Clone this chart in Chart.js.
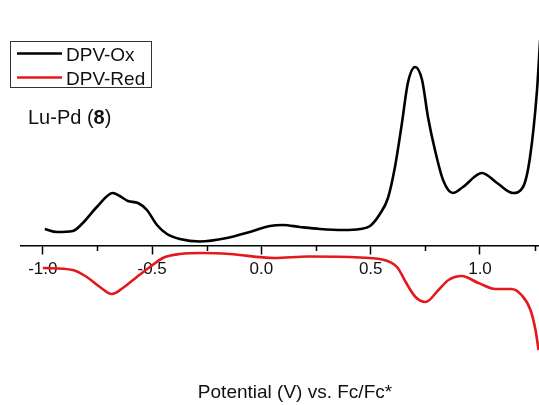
<!DOCTYPE html>
<html>
<head>
<meta charset="utf-8">
<script src="https://cdn.jsdelivr.net/npm/chart.js@4/dist/chart.umd.min.js"></script>
<style>
  html, body { margin: 0; padding: 0; background: #fff; }
  #wrap { width: 539px; height: 405px; position: relative; }
  canvas { display: block; }
</style>
</head>
<body>
<div id="wrap"><canvas id="dpv" width="539" height="405"></canvas></div>
<script>
// Differential pulse voltammetry of Lu-Pd (8): potential (V vs. Fc/Fc*) and current (arb. units)
const oxPotential = [-0.991, -0.936, -0.863, -0.817, -0.753, -0.680, -0.648, -0.611, -0.565, -0.524,
  -0.478, -0.432, -0.373, -0.282, -0.158, -0.053, 0.039, 0.098, 0.176, 0.268,
  0.373, 0.451, 0.497, 0.542, 0.579, 0.611, 0.643, 0.670, 0.703, 0.735,
  0.762, 0.794, 0.831, 0.876, 0.922, 1.009, 1.078, 1.151, 1.197,
  1.229, 1.261, 1.275];
const oxCurrent = [1.7, 1.4, 1.5, 2.3, 3.9, 5.3, 5.0, 4.5, 4.3, 3.6,
  2.1, 1.2, 0.7, 0.45, 0.8, 1.4, 2.0, 2.1, 1.9, 1.7,
  1.6, 1.7, 2.0, 3.2, 4.8, 7.9, 12.3, 16.3, 17.9, 16.6,
  12.9, 9.6, 6.6, 5.3, 5.9, 7.3, 6.3, 5.3, 5.9,
  8.9, 15.6, 20.6];

const redPotential = [-1.000, -0.863, -0.799, -0.739, -0.684, -0.634, -0.570, -0.510, -0.451, -0.373,
  -0.268, -0.144, 0.057, 0.216, 0.451, 0.577, 0.624, 0.660, 0.705, 0.751,
  0.810, 0.856, 0.916, 0.993, 1.071, 1.144, 1.190, 1.231, 1.254, 1.268];
const redCurrent = [-2.2, -2.4, -3.1, -4.1, -4.8, -4.2, -3.1, -2.1, -1.2, -0.8,
  -0.7, -0.8, -1.2, -1.05, -1.15, -1.5, -2.2, -3.6, -5.1, -5.6,
  -4.4, -3.4, -3.0, -3.7, -4.3, -4.3, -4.9, -6.4, -8.4, -10.4];

const majorTicks = [-1.0, -0.5, 0.0, 0.5, 1.0];
const minorTicks = [-0.75, -0.25, 0.25, 0.75, 1.25];
const seriesNames = ['DPV-Ox', 'DPV-Red'];
const seriesColors = ['#000000', '#e3191c'];
const axisTitle = 'Potential (V) vs. Fc/Fc*';

const FONT = '"Liberation Sans", Arial, Helvetica, sans-serif';

function pairs(xs, ys) { return xs.map((x, i) => ({ x: x, y: ys[i] })); }

// Minor tick marks along the x axis (drawn under the curves)
const minorTickPlugin = {
  id: 'minorTicks',
  beforeDatasetsDraw(chart) {
    const xs = chart.scales.x, ys = chart.scales.y;
    const y0 = ys.getPixelForValue(0);
    const ctx = chart.ctx;
    ctx.save();
    ctx.strokeStyle = '#000';
    ctx.lineWidth = 1.5;
    ctx.beginPath();
    minorTicks.forEach(v => {
      const px = Math.round(xs.getPixelForValue(v)) + 0.5;
      ctx.moveTo(px, y0);
      ctx.lineTo(px, y0 + 5);
    });
    ctx.stroke();
    ctx.restore();
  }
};

// Boxed legend, compound label and axis title
const labelsPlugin = {
  id: 'labels',
  afterDraw(chart) {
    const ctx = chart.ctx;
    ctx.save();
    // legend frame
    ctx.strokeStyle = '#333';
    ctx.lineWidth = 1;
    ctx.strokeRect(10.5, 41.5, 141, 46);
    const rows = [53.5, 77.5];
    ctx.font = '19px ' + FONT;
    ctx.textBaseline = 'alphabetic';
    ctx.textAlign = 'left';
    seriesNames.forEach((name, i) => {
      ctx.strokeStyle = seriesColors[i];
      ctx.lineWidth = 2.6;
      ctx.beginPath();
      ctx.moveTo(17, rows[i]);
      ctx.lineTo(62, rows[i]);
      ctx.stroke();
      ctx.fillStyle = '#111';
      ctx.fillText(name, 66, rows[i] + 7);
    });
    // compound label: Lu-Pd (8) with bold number
    let x = 28;
    const base = 124;
    ctx.fillStyle = '#111';
    ctx.font = '20px ' + FONT;
    ctx.fillText('Lu-Pd (', x, base);
    x += ctx.measureText('Lu-Pd (').width;
    ctx.font = 'bold 20px ' + FONT;
    ctx.fillText('8', x, base);
    x += ctx.measureText('8').width;
    ctx.font = '20px ' + FONT;
    ctx.fillText(')', x, base);
    // x axis title
    ctx.font = '19px ' + FONT;
    ctx.textAlign = 'center';
    ctx.fillText(axisTitle, 295, 398);
    ctx.restore();
  }
};

const lineStyle = {
  borderWidth: 2.6,
  pointRadius: 0,
  cubicInterpolationMode: 'monotone',
  fill: false
};

new Chart(document.getElementById('dpv'), {
  type: 'line',
  data: {
    datasets: [
      Object.assign({
        label: seriesNames[0],
        data: pairs(oxPotential, oxCurrent),
        borderColor: seriesColors[0]
      }, lineStyle),
      Object.assign({
        label: seriesNames[1],
        data: pairs(redPotential, redCurrent),
        borderColor: seriesColors[1]
      }, lineStyle)
    ]
  },
  options: {
    responsive: false,
    animation: false,
    layout: { padding: { left: 21, right: 0, top: 0, bottom: 0 } },
    plugins: {
      legend: { display: false },
      tooltip: { enabled: false },
      title: { display: false }
    },
    scales: {
      x: {
        type: 'linear',
        position: { y: 0 },
        min: -1.1,
        max: 1.27,
        afterBuildTicks(scale) {
          scale.ticks = majorTicks.map(v => ({ value: v }));
        },
        border: { display: true, color: '#000', width: 1.5 },
        grid: {
          display: true,
          drawOnChartArea: false,
          drawTicks: true,
          tickLength: 8,
          tickWidth: 1.5,
          tickColor: '#000'
        },
        ticks: {
          color: '#111',
          padding: 5,
          maxRotation: 0,
          autoSkip: false,
          font: { family: FONT, size: 17 },
          callback: v => Number(v).toFixed(1)
        }
      },
      y: {
        type: 'linear',
        display: false,
        min: -15.9,
        max: 24.6
      }
    }
  },
  plugins: [minorTickPlugin, labelsPlugin]
});
</script>
</body>
</html>
